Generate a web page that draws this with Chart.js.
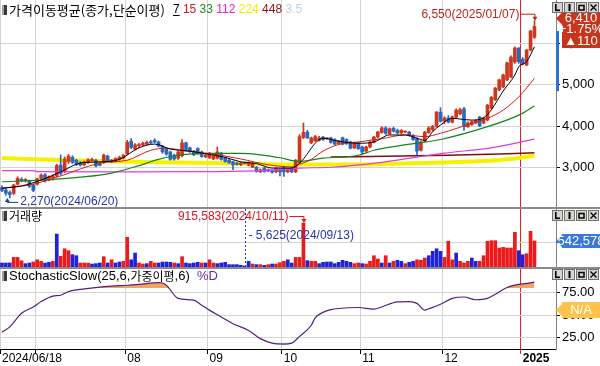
<!DOCTYPE html>
<html>
<head>
<meta charset="utf-8">
<script src="https://cdn.jsdelivr.net/npm/chart.js@4.4.0/dist/chart.umd.min.js"></script>
<style>
  html, body { margin: 0; padding: 0; background: #fff; }
  #wrap { position: relative; width: 600px; height: 366px; overflow: hidden; background: #fff; }
  #wrap canvas { position: absolute; left: 0; }
  .sep { position: absolute; left: 0; width: 600px; height: 2px; background: #8a8a8a; }
</style>
</head>
<body>
<div id="wrap">
  <canvas id="price" width="600" height="207" style="top:0"></canvas>
  <div class="sep" style="top:207px"></div>
  <canvas id="volume" width="600" height="58" style="top:209px"></canvas>
  <div class="sep" style="top:267px"></div>
  <canvas id="stoch" width="600" height="97" style="top:269px"></canvas>
</div>
<script>
// 일봉 구간: 2024/06/18 ~ 2025/01/07
const monthLabels = ["2024/06/18", "", "08", "09", "10", "11", "12", "2025"];
const monthDays = [9, 23, 21, 19, 20, 21, 20, 4];
const spareSlots = 5;

const opens = [
  2520, 2460, 2400, 2380, 2600, 2720, 2690, 2680, 2580, 2600,
  2740, 2830, 2700, 2760, 2800, 3060, 2900, 3150, 3250, 3180,
  3120, 3070, 3120, 3170, 3180, 3100, 3120, 3280, 3150, 3160,
  3200, 3230, 3330, 3640, 3450, 3530, 3550, 3570, 3610, 3660,
  3620, 3520, 3450, 3380, 3300, 3230, 3290, 3600, 3480, 3400,
  3460, 3380, 3260, 3240, 3210, 3230, 3350, 3230, 3180, 3140,
  3110, 3070, 3110, 3060, 3010, 3010, 2900, 2990, 2950, 2930,
  2900, 2960, 2990, 2900, 2990, 2900, 3120, 3730, 3860, 3600,
  3650, 3660, 3740, 3700, 3720, 3680, 3580, 3720, 3680, 3620,
  3480, 3600, 3500, 3400, 3500, 3620, 3740, 3850, 3960, 3820,
  3950, 3900, 3840, 3860, 3860, 3780, 3700, 3420, 3640, 3850,
  3920, 4000, 4340, 4130, 4200, 4100, 4220, 4300, 4420, 3990,
  4040, 4080, 4220, 4080, 4150, 4440, 4640, 4880, 4950, 5120,
  5190, 5550, 5890, 5620, 5480, 5840, 6150
];
const highs = [
  2560, 2500, 2440, 2600, 2780, 2760, 2740, 2700, 2600, 2750,
  2850, 2860, 2800, 2830, 3080, 3310, 3260, 3320, 3290, 3200,
  3150, 3160, 3220, 3230, 3200, 3130, 3330, 3300, 3200, 3240,
  3280, 3320, 3660, 3700, 3580, 3590, 3620, 3640, 3660, 3700,
  3640, 3540, 3480, 3400, 3330, 3400, 3680, 3620, 3500, 3420,
  3480, 3400, 3320, 3370, 3300, 3500, 3370, 3250, 3200, 3160,
  3130, 3130, 3120, 3140, 3120, 3030, 2970, 3010, 2970, 2950,
  3000, 2980, 3010, 2970, 3000, 3200, 3800, 4080, 3900, 3740,
  3780, 3760, 3760, 3720, 3740, 3700, 3660, 3740, 3700, 3640,
  3620, 3610, 3520, 3520, 3640, 3760, 3880, 3990, 3990, 3960,
  3980, 3930, 3920, 3890, 3880, 3800, 3720, 3650, 3880, 3990,
  4020, 4360, 4450, 4230, 4260, 4250, 4420, 4440, 4460, 4110,
  4130, 4160, 4240, 4220, 4530, 4720, 4940, 5140, 5260, 5550,
  5700, 5920, 5900, 5660, 5860, 6320, 6550
];
const lows = [
  2420, 2330, 2270, 2350, 2580, 2660, 2650, 2520, 2420, 2580,
  2700, 2650, 2680, 2700, 2780, 2820, 2880, 3100, 3100, 3050,
  3040, 3050, 3100, 3150, 3020, 3040, 3100, 3150, 3120, 3140,
  3180, 3210, 3320, 3450, 3420, 3480, 3520, 3550, 3580, 3600,
  3500, 3350, 3300, 3180, 3180, 3200, 3260, 3420, 3370, 3290,
  3320, 3250, 3240, 3220, 3190, 3210, 3180, 3130, 3100, 2950,
  3060, 3050, 3090, 3040, 3000, 2890, 2880, 2890, 2900, 2870,
  2880, 2800, 2790, 2880, 2880, 2880, 3100, 3700, 3700, 3580,
  3630, 3640, 3660, 3680, 3590, 3550, 3560, 3550, 3560, 3450,
  3460, 3440, 3340, 3380, 3480, 3600, 3720, 3830, 3800, 3800,
  3860, 3820, 3820, 3840, 3760, 3660, 3300, 3400, 3620, 3830,
  3880, 3980, 4100, 4060, 4080, 4080, 4200, 4280, 3900, 3970,
  4020, 4060, 3990, 4060, 4130, 4420, 4620, 4860, 4930, 5100,
  5170, 5520, 5520, 5480, 5460, 5820, 6120
];
const closes = [
  2450, 2380, 2350, 2580, 2740, 2690, 2710, 2550, 2450, 2730,
  2820, 2680, 2780, 2800, 3050, 2860, 3200, 3280, 3130, 3080,
  3060, 3140, 3190, 3200, 3040, 3060, 3300, 3170, 3180, 3220,
  3250, 3300, 3610, 3490, 3550, 3560, 3590, 3610, 3600, 3620,
  3520, 3380, 3330, 3200, 3210, 3380, 3600, 3440, 3390, 3310,
  3340, 3270, 3300, 3350, 3280, 3380, 3200, 3150, 3120, 3070,
  3080, 3110, 3100, 3130, 3100, 2910, 2950, 2910, 2920, 2890,
  2980, 2900, 2900, 2950, 2900, 3180, 3750, 3850, 3720, 3720,
  3750, 3720, 3680, 3700, 3610, 3570, 3640, 3570, 3580, 3470,
  3600, 3460, 3380, 3500, 3620, 3740, 3860, 3960, 3830, 3940,
  3880, 3840, 3900, 3870, 3780, 3680, 3400, 3620, 3860, 3960,
  4000, 4340, 4120, 4200, 4100, 4230, 4390, 4400, 3990, 4080,
  4110, 4140, 4010, 4200, 4510, 4700, 4920, 5120, 5240, 5530,
  5670, 5890, 5560, 5520, 5840, 6300, 6410
];
const volumes = [
  83000, 83000, 85000, 200000, 200000, 130000, 70000, 83000, 104000, 150000,
  118000, 83000, 97000, 118000, 686000, 222000, 380000, 340000, 256000, 235000,
  83000, 83000, 80000, 62000, 70000, 83000, 215000, 83000, 150000, 83000,
  104000, 118000, 617000, 150000, 291000, 83000, 62000, 70000, 118000, 83000,
  83000, 104000, 104000, 97000, 83000, 70000, 215000, 83000, 70000, 83000,
  97000, 83000, 83000, 150000, 83000, 70000, 83000, 97000, 49000, 49000,
  49000, 35000, 5625, 118000, 62000, 49000, 49000, 35000, 49000, 62000,
  62000, 90000, 118000, 150000, 83000, 200000, 200000, 915583, 132000, 118000,
  118000, 70000, 97000, 104000, 104000, 70000, 97000, 139000, 118000, 97000,
  70000, 83000, 70000, 62000, 118000, 235000, 166000, 83000, 235000, 83000,
  118000, 139000, 118000, 70000, 97000, 118000, 150000, 139000, 187000, 235000,
  326000, 380000, 326000, 200000, 534000, 150000, 290000, 118000, 83000, 118000,
  187000, 118000, 118000, 235000, 534000, 548000, 548000, 395000, 410000, 395000,
  395000, 721000, 340000, 256000, 277000, 742000, 542578
];
// 1 = 상승(빨강), 0 = 하락(파랑)
const volumeUp = [
  0, 0, 0, 1, 1, 1, 0, 0, 1, 1,
  1, 0, 0, 1, 0, 1, 1, 1, 0, 0,
  1, 1, 1, 0, 0, 0, 1, 0, 1, 0,
  0, 1, 1, 0, 0, 1, 1, 0, 1, 1,
  0, 0, 0, 0, 1, 0, 1, 0, 0, 0,
  0, 1, 0, 1, 1, 0, 0, 0, 0, 0,
  0, 0, 0, 0, 1, 0, 1, 0, 1, 0,
  1, 1, 1, 0, 0, 1, 1, 1, 0, 1,
  1, 0, 0, 0, 0, 0, 0, 0, 0, 0,
  1, 1, 0, 1, 1, 1, 1, 0, 1, 0,
  1, 0, 0, 1, 0, 0, 1, 1, 1, 0,
  0, 0, 0, 1, 1, 1, 0, 1, 1, 1,
  0, 0, 1, 1, 1, 1, 1, 1, 1, 1,
  1, 1, 0, 0, 1, 1, 1
];

// 이동평균선 (일자 인덱스, 값) - 그림에서 읽은 값
const ma7 = [[0, 2500], [5, 2560], [10, 2700], [15, 2900], [20, 3110], [25, 3140], [30, 3200], [35, 3480], [39, 3570], [43, 3450], [48, 3400], [53, 3320], [57, 3250], [61, 3140], [65, 3100], [69, 2990], [74, 2990], [76, 3110], [82, 3710], [86, 3640], [91, 3590], [95, 3620], [99, 3790], [103, 3790], [106, 3710], [108, 3660], [110, 3870], [112, 4030], [115, 4190], [120, 4150], [123, 4200], [125, 4400], [128, 4850], [131, 5240], [132, 5440], [134, 5560], [136, 5920]];
const ma15 = [[0, 2510], [7, 2580], [15, 2800], [25, 3110], [32, 3180], [38, 3420], [42, 3470], [47, 3400], [53, 3340], [61, 3210], [68, 3070], [74, 3020], [76, 3080], [79, 3200], [82, 3400], [86, 3560], [91, 3620], [97, 3700], [103, 3790], [108, 3750], [112, 3830], [120, 4070], [124, 4190], [128, 4390], [132, 4710], [136, 5160]];
const ma33 = [[0, 2660], [10, 2700], [20, 2770], [28, 2870], [35, 3050], [40, 3200], [45, 3300], [53, 3345], [61, 3345], [66, 3310], [71, 3240], [76, 3150], [82, 3230], [91, 3300], [95, 3420], [102, 3540], [112, 3680], [124, 3990], [132, 4270], [136, 4490]];
const ma112 = [[0, 2930], [8, 2930], [9, 2905], [33, 2900], [51, 2905], [66, 2930], [76, 2990], [84, 3010], [97, 3130], [113, 3350], [125, 3480], [136, 3690]];
const ma224 = [[0, 3234], [15, 3186], [30, 3150], [45, 3125], [61, 3100], [76, 3077], [91, 3077], [107, 3113], [120, 3150], [130, 3210], [136, 3295]];
const ma448 = [[84, 3260], [102, 3280], [114, 3300], [127, 3330], [136, 3360]];

// StochasticSlow %D
const stochD = [[0, 31], [2, 37], [5, 52], [8, 59], [10, 65], [13, 71], [15, 72], [17, 76], [21, 79], [25, 81], [28, 82], [32, 83], [35, 84], [40, 86], [41, 85.5], [42, 83], [45, 68.5], [49, 66.5], [51, 61], [53, 55.5], [56, 48], [59, 40.5], [63, 33], [66, 24], [69, 19], [72, 18], [74, 19], [76, 26.5], [79, 38.8], [80, 47], [82, 53], [84, 56], [86, 57.3], [91, 58.4], [95, 56.6], [97, 59], [101, 64.7], [104, 65], [106, 63], [108, 55.5], [109, 57], [112, 62], [115, 68.5], [118, 70], [121, 67], [124, 68.5], [126, 73], [129, 80.5], [132, 84], [134, 85], [136, 86.5]];

const priceTicks = [3000, 4000, 5000, 6000];
const volumeTicks = [500000];
const stochTicks = [25, 50, 75];

const highDate = "2025/01/07";
const lowDate = "2024/06/20";
const volHighDate = "2024/10/11";
const volLowDate = "2024/09/13";

// ---- 준비 ----
const categories = [];
const monthStarts = [];
monthDays.forEach((n, m) => {
  monthStarts.push(categories.length);
  for (let d = 0; d < n; d++) categories.push(d === 0 ? monthLabels[m] : "");
});
for (let k = 0; k < spareSlots; k++) categories.push("");
const yearStart = monthStarts[monthStarts.length - 1];

const UP = "#d0351f", DOWN = "#2c67c2";
const VOL_UP = "#ec1a1a", VOL_DOWN = "#1f22dc";
const fmt = (v) => v.toLocaleString("en-US");
const NUM = '"Liberation Sans", Arial, sans-serif';
const KOR = '"Noto Sans CJK KR", sans-serif';

function fillSeries(points) {
  const out = categories.map(() => null);
  points.forEach(([i, v]) => { out[i] = v; });
  return out;
}

function gridColor(i, normal) {
  if (i === yearStart) return "#e3201b";
  if (monthStarts.includes(i)) return normal;
  return "rgba(0,0,0,0)";
}

// 축 라벨 때문에 생기는 자동 여백 제거
function noPadding(s) {
  s.paddingTop = 0; s.paddingBottom = 0; s.paddingLeft = 0; s.paddingRight = 0;
}

function xAxis(withLabels) {
  return {
    type: "category",
    offset: true,
    grid: {
      offset: true,
      color: (c) => gridColor(c.index, "#d4d4d4"),
      drawTicks: withLabels,
      tickLength: 5,
      tickColor: (c) => gridColor(c.index, "#000"),
    },
    border: { display: withLabels, color: "#000" },
    ticks: {
      display: withLabels,
      autoSkip: false,
      maxRotation: 0,
      minRotation: 0,
      align: "start",
      padding: -3,
      color: "#000",
      font: (c) => ({ family: NUM, size: 12, weight: c.index === yearStart ? "bold" : "normal" }),
    },
    afterFit: (s) => { s.height = withLabels ? 17 : 0; noPadding(s); },
  };
}

function yAxis(min, max, values, label, showLabels) {
  return {
    position: "right",
    min, max,
    afterBuildTicks: (s) => { s.ticks = values.map((v) => ({ value: v })); },
    afterFit: (s) => { s.width = 44; noPadding(s); },
    grid: { color: "#d4d4d4", tickLength: 4, tickColor: "#000" },
    border: { color: "#7f7f7f" },
    ticks: { display: showLabels, padding: 2, color: "#000", font: { family: NUM, size: 13 }, callback: label },
  };
}

const baseOptions = () => ({
  responsive: false,
  animation: false,
  events: [],
  layout: { padding: 0, autoPadding: false },
  plugins: { legend: { display: false }, tooltip: { enabled: false } },
});

function lineSet(points, color, width, order) {
  return {
    type: "line",
    data: fillSeries(points),
    borderColor: color,
    borderWidth: width,
    pointRadius: 0,
    spanGaps: true,
    cubicInterpolationMode: "monotone",
    fill: false,
    order,
  };
}

// ---- 장식 ----
function drawParts(ctx, x, y, parts) {
  ctx.textAlign = "left";
  ctx.textBaseline = "middle";
  for (const [text, font, color] of parts) {
    ctx.font = font;
    ctx.fillStyle = color;
    ctx.fillText(text, x, y);
    x += ctx.measureText(text).width;
  }
  return x;
}
function drawIcon(ctx, y) {
  ctx.fillStyle = "#3a3a3a";
  ctx.fillRect(2, y - 5, 5, 10);
  ctx.fillStyle = "#a0a0a0";
  ctx.fillRect(2, y - 5, 2, 10);
}
function drawButtons(ctx, top) {
  for (let k = 0; k < 4; k++) {
    const bx = 552 + k * 12;
    ctx.fillStyle = "#d8d5d0";
    ctx.fillRect(bx, top, 11, 11);
    ctx.strokeStyle = "#707070";
    ctx.lineWidth = 1;
    ctx.strokeRect(bx + 0.5, top + 0.5, 10, 10);
  }
  ctx.fillStyle = "#000";
  ctx.strokeStyle = "#000";
  ctx.fillRect(555, top + 2, 1.6, 7);
  ctx.fillRect(555, top + 7.5, 5, 1.6);
  ctx.fillRect(568.5, top + 2, 2, 7);
  ctx.lineWidth = 1.5;
  ctx.strokeRect(579, top + 3.5, 5, 4.5);
  ctx.lineWidth = 1.3;
  ctx.beginPath();
  ctx.moveTo(590.5, top + 2.5); ctx.lineTo(596.5, top + 8.5);
  ctx.moveTo(596.5, top + 2.5); ctx.lineTo(590.5, top + 8.5);
  ctx.stroke();
}
function tagBox(ctx, yTop, yBot, notchY, color, lines) {
  ctx.fillStyle = color;
  ctx.beginPath();
  ctx.moveTo(562, yTop); ctx.lineTo(600, yTop); ctx.lineTo(600, yBot); ctx.lineTo(562, yBot);
  ctx.lineTo(562, Math.min(yBot, notchY + 6)); ctx.lineTo(556, notchY); ctx.lineTo(562, Math.max(yTop, notchY - 6));
  ctx.closePath();
  ctx.fill();
  ctx.fillStyle = "#fff";
  ctx.font = "13px " + NUM;
  ctx.textAlign = "center";
  ctx.textBaseline = "middle";
  lines.forEach(([t, y]) => ctx.fillText(t, 581, y));
}
function arrowDown(ctx, x, y) {
  ctx.beginPath(); ctx.moveTo(x - 2.5, y - 4); ctx.lineTo(x + 2.5, y - 4); ctx.lineTo(x, y); ctx.closePath(); ctx.fill();
}
function arrowUp(ctx, x, y) {
  ctx.beginPath(); ctx.moveTo(x - 2.5, y + 4); ctx.lineTo(x + 2.5, y + 4); ctx.lineTo(x, y); ctx.closePath(); ctx.fill();
}

const priceDecor = {
  id: "priceDecor",
  afterDraw(chart) {
    const { ctx, scales: { x, y } } = chart;
    ctx.save();
    drawIcon(ctx, 10);
    const end = drawParts(ctx, 9, 10, [["가격이동평균(종가,단순이평)", "13px " + KOR, "#000"]]);
    const legend = [["7", "#000"], ["15", "#e8141e"], ["33", "#1e8c1e"], ["112", "#e61ee6"], ["224", "#eeee00"], ["448", "#8c1414"], ["3.5", "#b9d3e6"]];
    let lx = end + 8;
    ctx.font = "12px " + NUM;
    legend.forEach(([t, c], k) => {
      ctx.fillStyle = c;
      ctx.fillText(t, lx, 10);
      const w = ctx.measureText(t).width;
      if (k === 0) ctx.fillRect(lx, 15, w, 1);
      lx += w + ctx.measureText(" ").width;
    });

    // 최고가
    const hi = Math.max(...highs), hiIdx = highs.indexOf(hi);
    const hx = x.getPixelForValue(hiIdx), hy = y.getPixelForValue(hi);
    ctx.fillStyle = ctx.strokeStyle = "#b8281c";
    ctx.lineWidth = 1;
    ctx.font = "12px " + NUM;
    ctx.textAlign = "right";
    ctx.fillText(fmt(hi) + "(" + highDate + ")", hx - 15, hy - 6);
    ctx.beginPath(); ctx.moveTo(hx - 14, hy - 6.5); ctx.lineTo(hx + 0.5, hy - 6.5); ctx.lineTo(hx + 0.5, hy - 3); ctx.stroke();
    arrowDown(ctx, hx + 0.5, hy);

    // 최저가
    const lo = Math.min(...lows), loIdx = lows.indexOf(lo);
    const lx2 = x.getPixelForValue(loIdx) - 2.5, ly = y.getPixelForValue(lo);
    ctx.fillStyle = ctx.strokeStyle = "#2436b0";
    ctx.beginPath(); ctx.moveTo(lx2, ly + 3); ctx.lineTo(lx2, ly + 4.5); ctx.lineTo(lx2 + 11, ly + 4.5); ctx.stroke();
    arrowUp(ctx, lx2, ly);
    ctx.textAlign = "left";
    ctx.fillText(fmt(lo) + "(" + lowDate + ")", lx2 + 13, ly + 4);

    // 현재가 표시
    const last = closes.length - 1;
    const diff = closes[last] - closes[last - 1];
    const pct = (diff / closes[last - 1]) * 100;
    ctx.fillStyle = "#2d6fd6";
    const by1 = y.getPixelForValue(6300), by2 = y.getPixelForValue(4850);
    ctx.fillRect(556, by1, 3, by2 - by1);
    const cy = y.getPixelForValue(closes[last]);
    tagBox(ctx, 12, 48, cy - 8, "#c9341d", [[fmt(closes[last]), 18], ["+" + pct.toFixed(2) + "%", 29.5], ["▲" + fmt(diff), 41]]);
    drawButtons(ctx, 2);
    ctx.restore();
  },
};

const volumeDecor = {
  id: "volumeDecor",
  afterDraw(chart) {
    const { ctx, scales: { x, y }, chartArea } = chart;
    ctx.save();
    drawIcon(ctx, 7);
    drawParts(ctx, 9, 7, [["거래량", "12px " + KOR, "#000"]]);

    const vmax = Math.max(...volumes), iMax = volumes.indexOf(vmax);
    const mx = x.getPixelForValue(iMax), my = y.getPixelForValue(vmax);
    ctx.fillStyle = ctx.strokeStyle = "#e0161c";
    ctx.lineWidth = 1;
    ctx.font = "12px " + NUM;
    ctx.textAlign = "right";
    ctx.textBaseline = "middle";
    ctx.fillText(fmt(vmax) + "(" + volHighDate + ")", mx - 15, my - 6);
    ctx.beginPath(); ctx.moveTo(mx - 14, my - 6.5); ctx.lineTo(mx + 0.5, my - 6.5); ctx.lineTo(mx + 0.5, my - 3); ctx.stroke();
    arrowDown(ctx, mx + 0.5, my);

    const vmin = Math.min(...volumes), iMin = volumes.indexOf(vmin);
    const nx = Math.round(x.getPixelForValue(iMin)) + 0.5;
    ctx.fillStyle = ctx.strokeStyle = "#2436b0";
    ctx.setLineDash([2, 2]);
    ctx.beginPath(); ctx.moveTo(nx, chartArea.top); ctx.lineTo(nx, chartArea.bottom); ctx.stroke();
    ctx.setLineDash([]);
    ctx.textAlign = "left";
    ctx.fillText("- " + fmt(vmin) + "(" + volLowDate + ")", nx + 3, chartArea.top + 27);

    const last = volumes.length - 1;
    const vy = y.getPixelForValue(volumes[last]);
    tagBox(ctx, vy - 7, vy + 7, vy, "#3a78dc", [[fmt(volumes[last]), vy]]);
    drawButtons(ctx, 1);
    ctx.restore();
  },
};

const stochDecor = {
  id: "stochDecor",
  afterDraw(chart) {
    const { ctx, chartArea } = chart;
    ctx.save();
    drawIcon(ctx, 7);
    drawParts(ctx, 9, 7, [
      ["StochasticSlow(25,6,", "13px " + NUM, "#000"],
      ["가중이평", "12px " + KOR, "#000"],
      [",6)  ", "13px " + NUM, "#000"],
      ["%D", "13px " + NUM, "#6a2aa0"],
    ]);
    const ny = chartArea.top + 41;
    tagBox(ctx, ny - 8, ny + 8, ny, "#ffc24a", [["N/A", ny]]);
    drawButtons(ctx, 0);
    ctx.restore();
  },
};

// ---- 가격 차트 ----
const candleColors = closes.map((c, i) => (c >= opens[i] ? UP : DOWN));

new Chart(document.getElementById("price"), {
  type: "bar",
  data: {
    labels: categories,
    datasets: [
      lineSet(ma224, "#f5f200", 4, 20),
      { data: lows.map((l, i) => [l, highs[i]]), backgroundColor: candleColors, barThickness: 1, grouped: false, order: 10 },
      { data: opens.map((o, i) => [o, closes[i]]), backgroundColor: candleColors, barThickness: 3, grouped: false, minBarLength: 1, order: 9 },
      lineSet(ma448, "#7c1010", 1.5, 5),
      lineSet(ma112, "#e03ce0", 1.2, 4),
      lineSet(ma33, "#16861a", 1.2, 3),
      lineSet(ma15, "#d81c1c", 1, 2),
      lineSet(ma7, "#000000", 1, 1),
    ],
  },
  options: {
    ...baseOptions(),
    scales: {
      x: xAxis(false),
      y: yAxis(2050, 7050, priceTicks, (v) => fmt(v), true),
    },
  },
  plugins: [priceDecor],
});

// ---- 거래량 ----
new Chart(document.getElementById("volume"), {
  type: "bar",
  data: {
    labels: categories,
    datasets: [{
      data: volumes,
      backgroundColor: volumeUp.map((u) => (u ? VOL_UP : VOL_DOWN)),
      barThickness: 3,
      minBarLength: 1,
    }],
  },
  options: {
    ...baseOptions(),
    scales: {
      x: xAxis(false),
      y: yAxis(0, 1207000, volumeTicks, (v) => fmt(v), false),
    },
  },
  plugins: [volumeDecor],
});

// ---- 스토캐스틱 ----
const stochData = fillSeries(stochD);
new Chart(document.getElementById("stoch"), {
  type: "line",
  data: {
    labels: categories,
    datasets: [
      {
        data: stochData,
        borderColor: "#52207e",
        borderWidth: 1.2,
        pointRadius: 0,
        spanGaps: true,
        cubicInterpolationMode: "monotone",
        fill: { target: { value: 80 }, above: "#f6a45c", below: "rgba(0,0,0,0)" },
      },
      {
        data: stochData,
        borderWidth: 0,
        borderColor: "rgba(0,0,0,0)",
        pointRadius: 0,
        spanGaps: true,
        cubicInterpolationMode: "monotone",
        fill: { target: { value: 20 }, above: "rgba(0,0,0,0)", below: "#aeeaf4" },
      },
    ],
  },
  options: {
    ...baseOptions(),
    scales: {
      x: xAxis(true),
      y: yAxis(12.5, 101, stochTicks, (v) => v.toFixed(2), true),
    },
  },
  plugins: [stochDecor],
});
</script>
</body>
</html>
